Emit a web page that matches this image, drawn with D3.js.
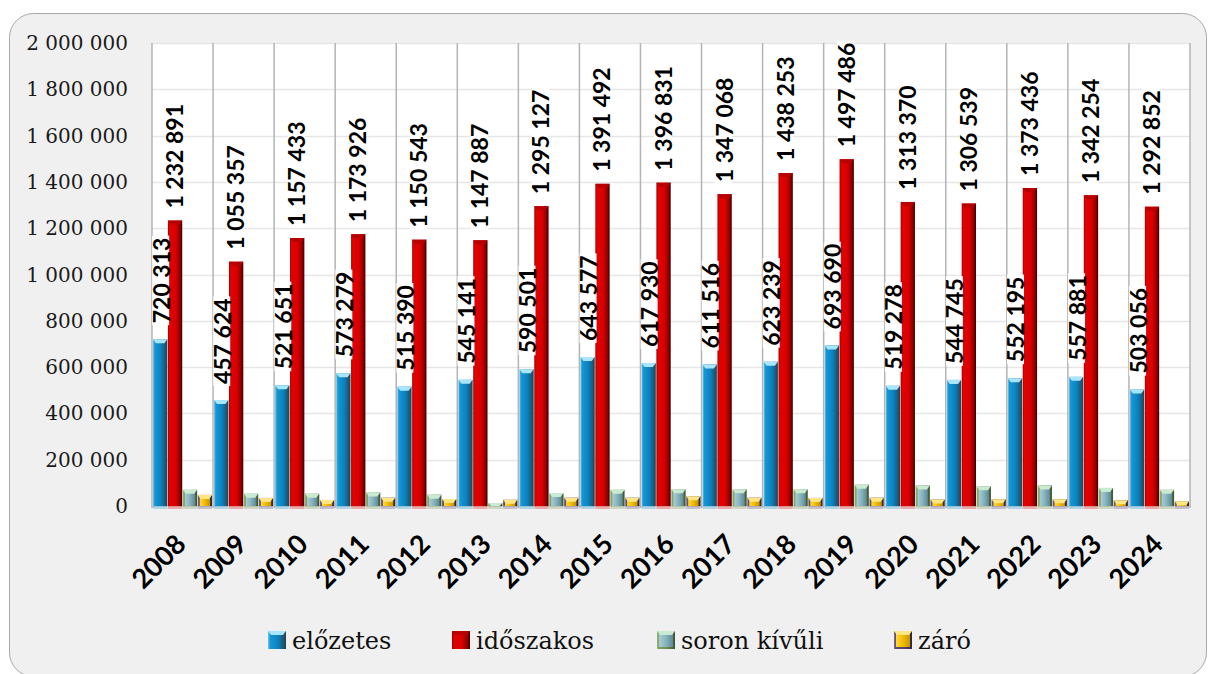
<!DOCTYPE html>
<html>
<head>
<meta charset="utf-8">
<script src="https://cdn.jsdelivr.net/npm/d3@7"></script>
<style>
  body { margin: 0; background: #fff; }
  svg { display: block; }
</style>
</head>
<body>
<svg id="chart" width="1208" height="674"></svg>
<script>
// --- data ---
const years = ['2008', '2009', '2010', '2011', '2012', '2013', '2014', '2015', '2016',
               '2017', '2018', '2019', '2020', '2021', '2022', '2023', '2024'];
const seriesNames = ['előzetes', 'időszakos', 'soron kívűli', 'záró'];

const elozetes = [720313, 457624, 521651, 573279, 515390, 545141, 590501, 643577, 617930,
                  611516, 623239, 693690, 519278, 544745, 552195, 557881, 503056];
const idoszakos = [1232891, 1055357, 1157433, 1173926, 1150543, 1147887, 1295127, 1391492, 1396831,
                   1347068, 1438253, 1497486, 1313370, 1306539, 1373436, 1342254, 1292852];
// small series have no labels
const soronKivuli = [70000, 53000, 53000, 58000, 49000, 13000, 56000, 70000, 72000,
                     72000, 72000, 92000, 89000, 85000, 89000, 78000, 70000];
const zaro = [48000, 35000, 26000, 36000, 30000, 27000, 36000, 36000, 42000,
              36000, 35000, 36000, 28000, 29000, 29000, 25000, 20000];
const labelled = [true, true, false, false];

const yTicks = [0, 200000, 400000, 600000, 800000, 1000000, 1200000, 1400000, 1600000, 1800000, 2000000];

class GroupedBarChart {

  constructor(_config, _data) {
    this.config = {
      parentElement: _config.parentElement,
      plot: { left: 152, right: 1190, top: 43, bottom: 506 }
    };
    this.data = _data;
    this.initVis();
  }

  initVis() {
    let vis = this;
    const p = vis.config.plot;
    vis.svg = d3.select(vis.config.parentElement);

    vis.x = d3.scaleBand().domain(years).range([p.left, p.right]);
    vis.xInner = d3.scaleBand().domain(seriesNames).range([1, vis.x.bandwidth() - 1]).paddingInner(0.04);
    vis.y = d3.scaleLinear().domain([0, 2000000]).range([p.bottom, p.top]);

    vis.fmt = v => d3.format(',')(v).replace(/,/g, ' ');

    // bar looks: outer (bevel frame) gradient, inner body gradient, cap colour
    vis.styles = {
      'előzetes':     { frame: ['#7cc7ea', '#1597d6', '#0b82bf', '#1a5a78', '#2b3c45'], inner: null, cap: '#a8e6ff', inset: 0 },
      'időszakos':    { frame: ['#9a0000', '#e40000', '#d80000', '#8c0000', '#3a0000'], inner: null, cap: '#b80000', inset: 0 },
      'soron kívűli': { frame: ['#93b870', '#7aa05a', '#6b8f4e', '#4f6b3a', '#3d5230'], inner: ['#a9cdd6', '#86b2bd', '#5d8a96'], cap: '#c9ead2', inset: 2 },
      'záró':         { frame: ['#7d6a90', '#5e4c70', '#54436a', '#3e3150', '#30263e'], inner: ['#ffd740', '#f0bb00', '#c89400'], cap: '#ffe680', inset: 2 }
    };

    const defs = vis.svg.append('defs');
    seriesNames.forEach((s, i) => {
      const st = vis.styles[s];
      const g1 = defs.append('linearGradient').attr('id', 'frame' + i).attr('x1', 0).attr('x2', 1).attr('y1', 0).attr('y2', 0);
      st.frame.forEach((c, k) => g1.append('stop').attr('offset', [0, 0.12, 0.55, 0.85, 1][k]).attr('stop-color', c));
      if (st.inner) {
        const g2 = defs.append('linearGradient').attr('id', 'inner' + i).attr('x1', 0).attr('x2', 1).attr('y1', 0).attr('y2', 0);
        st.inner.forEach((c, k) => g2.append('stop').attr('offset', [0, 0.5, 1][k]).attr('stop-color', c));
      }
    });

    // outer chart frame
    vis.svg.append('rect')
      .attr('x', 9.5).attr('y', 13.5)
      .attr('width', 1197).attr('height', 663)
      .attr('rx', 24).attr('ry', 24)
      .attr('fill', '#f0f0f0')
      .attr('stroke', '#a8a8a8');

    // plot area
    vis.svg.append('rect')
      .attr('x', p.left).attr('y', p.top)
      .attr('width', p.right - p.left).attr('height', p.bottom - p.top + 2)
      .attr('fill', '#fff');

    vis.svg.append('g').selectAll('line')
      .data(yTicks)
      .join('line')
        .attr('x1', p.left).attr('x2', p.right)
        .attr('y1', d => Math.round(vis.y(d)) + 0.5).attr('y2', d => Math.round(vis.y(d)) + 0.5)
        .attr('stroke', d => d === 0 ? '#d0d0d0' : '#e6e6e6')
        .attr('stroke-width', 1.5);

    // vertical category separators
    const bounds = years.map(d => vis.x(d)).concat([p.right]);
    vis.svg.append('g').selectAll('line')
      .data(bounds)
      .join('line')
        .attr('x1', d => d).attr('x2', d => d)
        .attr('y1', p.top).attr('y2', p.bottom + 2)
        .attr('stroke', '#b4b4b4')
        .attr('stroke-width', 1.5);

    // y axis labels
    vis.svg.append('g').selectAll('text')
      .data(yTicks)
      .join('text')
        .attr('x', 128)
        .attr('y', d => vis.y(d) + 7)
        .attr('text-anchor', 'end')
        .attr('font-family', 'DejaVu Serif')
        .attr('font-size', 20)
        .attr('fill', '#1a1a1a')
        .text(d => vis.fmt(d));

    // x axis labels
    vis.svg.append('g').selectAll('text')
      .data(years)
      .join('text')
        .attr('transform', d => `translate(${vis.x(d) + vis.x.bandwidth() / 2 + 5},546) rotate(-45)`)
        .attr('text-anchor', 'end')
        .attr('font-family', 'Lato')
        .attr('font-weight', 'bold')
        .attr('font-size', 27)
        .attr('fill', '#000')
        .text(d => d);

    // legend
    const legendPos = [268, 452, 657, 894];
    const legend = vis.svg.append('g').selectAll('g')
      .data(seriesNames)
      .join('g')
        .attr('transform', (d, i) => `translate(${legendPos[i]},631)`);
    legend.each(function(d, i) {
      const g = d3.select(this);
      vis.drawBar(g, i, 0, 0, 18, 18, true);
    });
    legend.append('text')
      .attr('x', 24).attr('y', 18)
      .attr('font-family', 'DejaVu Serif')
      .attr('font-size', 24)
      .attr('fill', '#111')
      .text(d => d);

    vis.updateVis();
  }

  // draws one bevelled bar into g
  drawBar(g, i, x, y, w, h, isLegend) {
    let vis = this;
    const st = vis.styles[seriesNames[i]];
    g.append('rect')
      .attr('x', x).attr('y', y).attr('width', w).attr('height', h)
      .attr('fill', `url(#frame${i})`);
    if (st.inner && h > st.inset * 2) {
      g.append('rect')
        .attr('x', x + st.inset).attr('y', y + st.inset)
        .attr('width', w - st.inset * 2).attr('height', Math.max(0, h - st.inset * (isLegend ? 2 : 1)))
        .attr('fill', `url(#inner${i})`);
    }
    const ch = Math.min(4, h);
    g.append('polygon')
      .attr('points', [[x, y], [x + w, y], [x + w - 3, y + ch], [x + 3, y + ch]].map(q => q.join(',')).join(' '))
      .attr('fill', st.cap);
  }

  updateVis() {
    let vis = this;
    const p = vis.config.plot;

    const groups = vis.svg.append('g').selectAll('g')
      .data(years)
      .join('g')
        .attr('transform', d => `translate(${vis.x(d)},0)`);

    groups.each(function(year, yi) {
      const g = d3.select(this);
      vis.data.forEach((vals, i) => {
        const bx = vis.xInner(seriesNames[i]);
        const by = vis.y(vals[yi]);
        const bw = vis.xInner.bandwidth();
        vis.drawBar(g, i, bx, by, bw, p.bottom - by, false);
        // floor reflection
        g.append('rect')
          .attr('x', bx).attr('y', p.bottom).attr('width', bw).attr('height', 3)
          .attr('fill', vis.styles[seriesNames[i]].frame[1])
          .attr('opacity', 0.3);
      });
    });

    // value labels (rotated, white box only behind the digits)
    const labelData = [];
    vis.data.forEach((vals, i) => {
      if (!labelled[i]) return;
      vals.forEach((v, yi) => labelData.push({ v: v, i: i, year: years[yi] }));
    });

    const labels = vis.svg.append('g').selectAll('g')
      .data(labelData)
      .join('g')
        .attr('transform', d => {
          const cx = vis.x(d.year) + vis.xInner(seriesNames[d.i]) + vis.xInner.bandwidth() / 2 + (d.i === 0 ? 1.5 : 0);
          const gap = d.i === 0 ? 16 : 12;
          return `translate(${cx + 8},${vis.y(d.v) - gap}) rotate(-90)`;
        });
    labels.append('rect').attr('fill', '#fff');
    labels.append('text')
      .attr('font-family', 'Lato')
      .attr('font-weight', 'bold')
      .attr('font-size', 23)
      .attr('fill', '#000')
      .text(d => vis.fmt(d.v));
    labels.each(function() {
      const bb = d3.select(this).select('text').node().getBBox();
      d3.select(this).select('rect')
        .attr('x', bb.x - 2).attr('y', -17.5)
        .attr('width', bb.width + 4).attr('height', 17);
    });
  }
}

const chart = new GroupedBarChart({ parentElement: '#chart' }, [elozetes, idoszakos, soronKivuli, zaro]);
</script>
</body>
</html>
